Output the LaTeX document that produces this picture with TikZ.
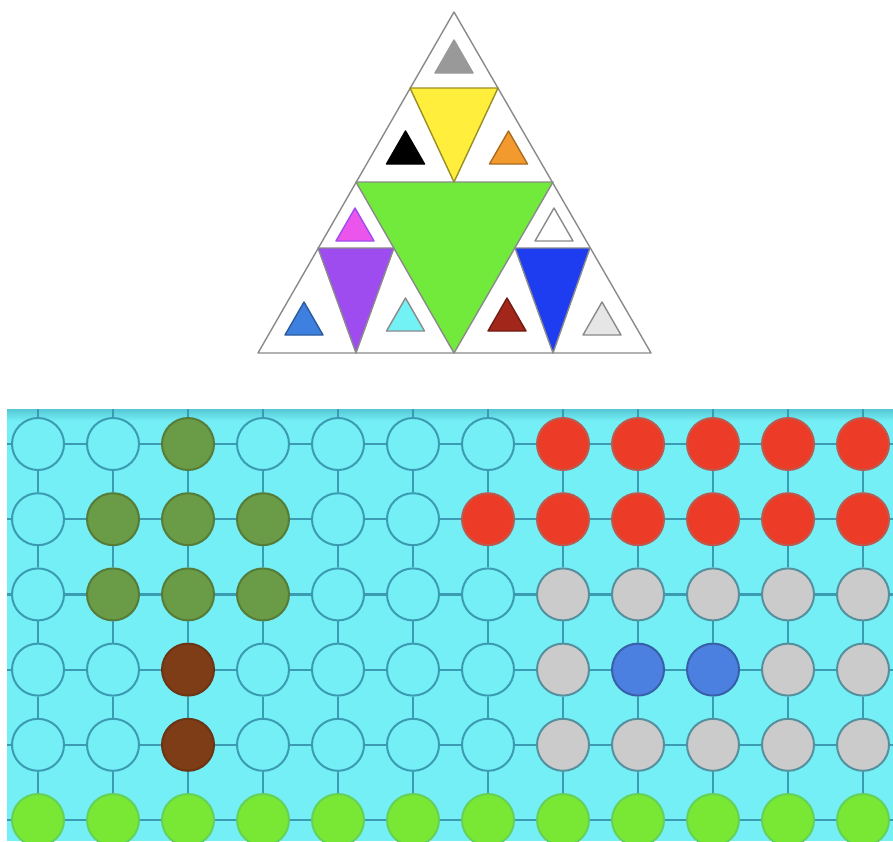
\documentclass[tikz,border=0pt]{standalone}
\usepackage{tikz}
\definecolor{bgcyan}{HTML}{74EFF5}
\definecolor{bgtop}{HTML}{55C8D5}
\definecolor{gridteal}{HTML}{3A9BB2}
\definecolor{triline}{HTML}{8A8A8A}
\definecolor{trigreen}{HTML}{72EA3C}
\definecolor{triyellow}{HTML}{FFEE3C}
\definecolor{tripurple}{HTML}{9E4BEF}
\definecolor{triblue}{HTML}{1F3DF0}
\definecolor{trigray}{HTML}{999999}
\definecolor{triorange}{HTML}{F29A2E}
\definecolor{trimagenta}{HTML}{EC55EC}
\definecolor{tricyan}{HTML}{72F2F5}
\definecolor{trismallblue}{HTML}{3E80E0}
\definecolor{tridarkred}{HTML}{A2261A}
\definecolor{trilight}{HTML}{E6E6E6}
\definecolor{dotolive}{HTML}{6A9B47}
\definecolor{dotbrown}{HTML}{7E3D17}
\definecolor{dotred}{HTML}{EC3C27}
\definecolor{dotgray}{HTML}{CBCBCB}
\definecolor{dotblue}{HTML}{4B80E0}
\definecolor{dotlime}{HTML}{78E835}

\begin{document}
\begin{tikzpicture}[x=1pt,y=-1pt,
  tri/.style={line width=1.4pt,line join=round},
  edge/.style={draw=gridteal,line width=2.2pt},
  dot/.style={circle,minimum size=52pt,inner sep=0pt,line width=2pt},
  cempty/.style={dot,draw=gridteal,fill=bgcyan},
  colive/.style={dot,draw=dotolive!80!black,fill=dotolive},
  cbrown/.style={dot,draw=dotbrown!85!black,fill=dotbrown},
  cred/.style={dot,draw=dotred!55!gray,fill=dotred},
  cgray/.style={dot,draw=gridteal!60!gray,fill=dotgray},
  cblue/.style={dot,draw=dotblue!75!black,fill=dotblue},
  clime/.style={dot,draw=dotlime!70!gridteal,fill=dotlime}]
  \useasboundingbox (0,0) rectangle (893,841);
  % triangle
  \filldraw[tri,draw=triline,fill=white] (454,12) -- (258,353) -- (651,353) -- cycle;
  \filldraw[tri,draw=triline,fill=trigreen] (356,182) -- (553,182) -- (454,353) -- cycle;
  \filldraw[tri,draw=triyellow!60!black,fill=triyellow] (410,88) -- (498,88) -- (454,182) -- cycle;
  \filldraw[tri,draw=triline,fill=tripurple] (318,248) -- (394,248) -- (356,353) -- cycle;
  \filldraw[tri,draw=triline,fill=triblue] (515,248) -- (590,248) -- (553,353) -- cycle;
  \foreach \x/\y/\col/\edg in {454/40/trigray/trigray,405.5/131/black/black,
      508.5/131/triorange/triorange!70!black,355/208/trimagenta/tripurple,
      554/208/white/triline,304/302/trismallblue/trismallblue!70!black,
      405.5/298/tricyan/triline,507/298/tridarkred/tridarkred!70!black,
      602/302/trilight/triline}
    \filldraw[tri,draw=\edg,fill=\col] (\x,\y) -- ++(-19,33) -- ++(38,0) -- cycle;
  % board
  \fill[bgcyan] (7,409) rectangle (893,841);
  \shade[top color=bgtop,bottom color=bgcyan] (7,409) rectangle (893,421);
  \foreach \r/\cols in {
      1/{cempty,cempty,colive,cempty,cempty,cempty,cempty,cred,cred,cred,cred,cred},
      2/{cempty,colive,colive,colive,cempty,cempty,cred,cred,cred,cred,cred,cred},
      3/{cempty,colive,colive,colive,cempty,cempty,cempty,cgray,cgray,cgray,cgray,cgray},
      4/{cempty,cempty,cbrown,cempty,cempty,cempty,cempty,cgray,cblue,cblue,cgray,cgray},
      5/{cempty,cempty,cbrown,cempty,cempty,cempty,cempty,cgray,cgray,cgray,cgray,cgray},
      6/{clime,clime,clime,clime,clime,clime,clime,clime,clime,clime,clime,clime}} {
    \coordinate (lft-\r) at (7,{444+75.2*(\r-1)});
    \coordinate (rgt-\r) at (893,{444+75.2*(\r-1)});
    \foreach \s [count=\c] in \cols
      \node[\s] (c-\r-\c) at ({38+75*(\c-1)},{444+75.2*(\r-1)}) {};
  }
  \foreach \c in {1,...,12}
    \coordinate (top-\c) at ({38+75*(\c-1)},409);
  % links
  \foreach \r in {1,...,6} {
    \draw[edge] (lft-\r) -- (c-\r-1);
    \foreach \c [count=\n from 2] in {1,...,11}
      \draw[edge] (c-\r-\c) -- (c-\r-\n);
    \draw[edge] (c-\r-12) -- (rgt-\r);
  }
  \foreach \c in {1,...,12} {
    \draw[edge] (top-\c) -- (c-1-\c);
    \foreach \r [count=\n from 2] in {1,...,5}
      \draw[edge] (c-\r-\c) -- (c-\n-\c);
  }
\end{tikzpicture}
\end{document}
